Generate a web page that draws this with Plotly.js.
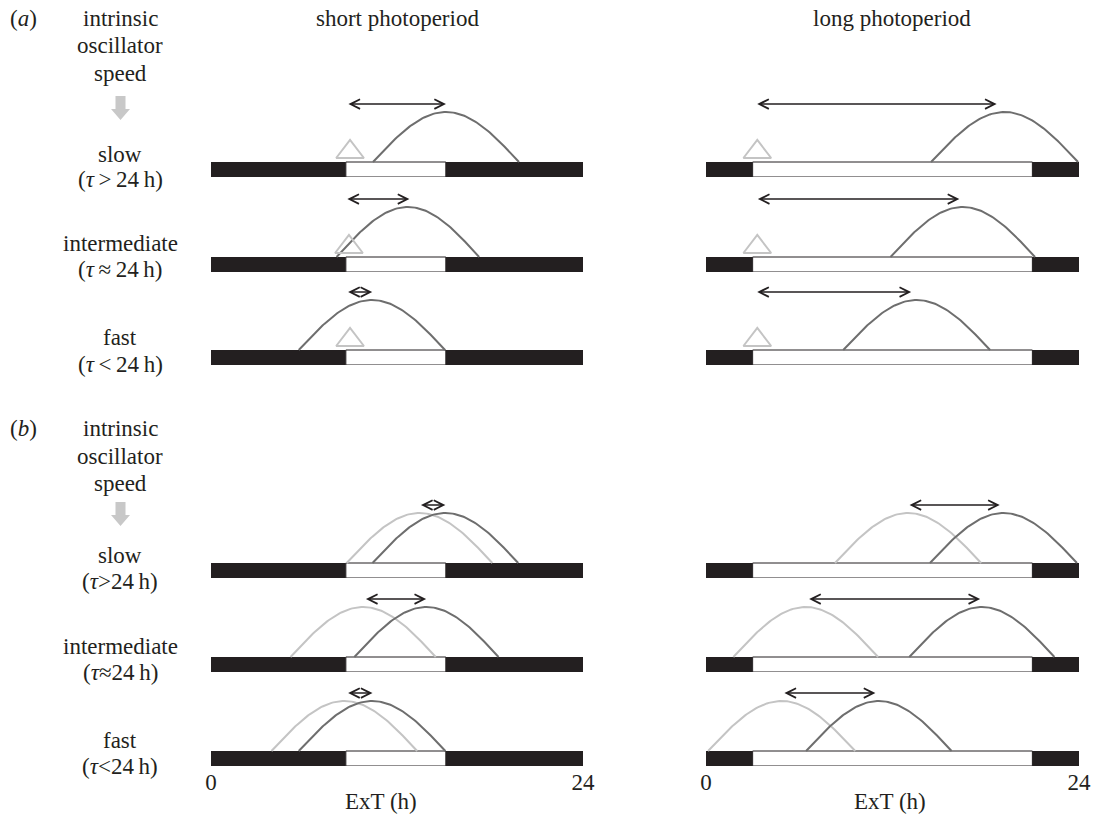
<!DOCTYPE html>
<html><head><meta charset="utf-8">
<script src="https://cdn.plot.ly/plotly-3.0.1.min.js"></script>
<style>html,body{margin:0;padding:0;background:#fff}</style>
</head><body><div id="chart" style="width:1094px;height:814px"></div>
<script>
// ---------------- data ----------------
const photoperiods = ['short photoperiod', 'long photoperiod'];
const lightOn  = [8.7, 3.0];     // h, light onset per photoperiod
const lightOff = [15.15, 21.0];  // h, light offset per photoperiod
const tickVals = [0, 24];
const tickLabels = ['0', '24'];
const axisTitle = 'ExT (h)';
const panelLabels = ['(<i>a</i>)', '(<i>b</i>)'];
const headerLines = ['intrinsic', 'oscillator', 'speed'];
const speedLabels = ['slow', 'intermediate', 'fast'];
const tauLabelsA = ['(<i>τ</i>\u2009&gt;\u200924\u2009h)', '(<i>τ</i>\u2009≈\u200924\u2009h)', '(<i>τ</i>\u2009&lt;\u200924\u2009h)'];
const tauLabelsB = ['(<i>τ</i>&gt;24\u2009h)', '(<i>τ</i>≈24\u2009h)', '(<i>τ</i>&lt;24\u2009h)'];

// panel (a): rows slow / intermediate / fast, columns short / long
const aCurveStart = [[10.45, 14.48], [8.1, 11.87], [5.66, 8.83]];
const aCurveEnd   = [[19.87, 23.94], [17.3, 21.17], [15.1, 18.28]];
const aArrowFrom  = [[8.77, 3.2], [8.7, 3.24], [8.75, 3.2]];
const aArrowTo    = [[15.16, 18.7], [12.8, 16.3], [10.4, 13.2]];
const aTriangle   = [[8.97, 3.3], [8.9, 3.3], [8.97, 3.3]];

// panel (b)
const bLightStart = [[8.75, 8.3], [5.13, 1.76], [3.9, 0.13]];
const bLightEnd   = [[18.15, 17.7], [14.5, 11.07], [13.3, 9.6]];
const bDarkStart  = [[10.42, 14.41], [9.25, 13.08], [5.66, 6.44]];
const bDarkEnd    = [[19.82, 23.87], [18.55, 22.42], [15.12, 15.8]];
const bArrowFrom  = [[13.45, 13.0], [9.9, 6.54], [8.75, 4.95]];
const bArrowTo    = [[15.12, 18.9], [13.88, 17.64], [10.42, 10.9]];

// ---------------- layout constants ----------------
const W = 1094, H = 814;
const FONT = 'Liberation Serif, "Times New Roman", serif';
const FS = 23;
const INK = '#231f20';
const DARK = '#6e6e6e';
const LIGHT = '#c4c4c4';
const rowTops = [162, 257, 350, 563, 657, 751];
const U = 50;
const colPx = [[211, 583], [706, 1079]];
const ARROW_Y = 1.16, BAR_H = 0.3, TRI_Y = 0.2;

const px = v => v / W, py = v => 1 - v / H;

function hump(s, e) {
  const pk = (s + e) / 2, hw = (e - s) / 2, xs = [], ys = [];
  for (let k = 0; k <= 80; k++) {
    const x = s + (e - s) * k / 80;
    xs.push(x); ys.push(Math.cos(Math.PI * (x - pk) / (2 * hw)));
  }
  return {xs, ys};
}

const traces = [];
const layout = {
  width: W, height: H, margin: {l: 0, r: 0, t: 0, b: 0},
  paper_bgcolor: 'white', plot_bgcolor: 'rgba(0,0,0,0)', showlegend: false,
  shapes: [], annotations: []
};

for (let r = 0; r < 6; r++) {
  const panel = r < 3 ? 0 : 1, row = r % 3;
  for (let c = 0; c < 2; c++) {
    const idx = r * 2 + c + 1, sfx = idx === 1 ? '' : String(idx);
    const xa = 'x' + sfx, ya = 'y' + sfx;
    const T = rowTops[r];
    layout['xaxis' + sfx] = {
      domain: [px(colPx[c][0]), px(colPx[c][1])], range: [0, 24],
      visible: r === 5, showgrid: false, zeroline: false, showline: false, ticks: '',
      tickvals: tickVals, ticktext: tickLabels,
      tickfont: {family: FONT, size: FS, color: INK},
      anchor: ya, fixedrange: true
    };
    layout['yaxis' + sfx] = {
      domain: [py(T + 0.3 * U), py(T - 1.4 * U)], range: [-0.3, 1.4],
      visible: false, anchor: xa, fixedrange: true
    };
    // light/dark bar
    const segs = [[0, lightOn[c], INK], [lightOn[c], lightOff[c], 'white'], [lightOff[c], 24, INK]];
    segs.forEach(sg => layout.shapes.push({
      type: 'rect', xref: xa, yref: ya, x0: sg[0], x1: sg[1], y0: -BAR_H, y1: 0,
      fillcolor: sg[2], line: {color: INK, width: sg[2] === 'white' ? 1 : 0}, layer: 'below'
    }));
    let from, to;
    if (panel === 0) {
      const h = hump(aCurveStart[row][c], aCurveEnd[row][c]);
      traces.push({x: h.xs, y: h.ys, xaxis: xa, yaxis: ya, mode: 'lines',
        line: {color: DARK, width: 2}, hoverinfo: 'skip'});
      traces.push({x: [aTriangle[row][c]], y: [TRI_Y], xaxis: xa, yaxis: ya, mode: 'markers',
        marker: {symbol: 'triangle-up-open', size: 24, color: LIGHT, line: {color: LIGHT, width: 2}},
        hoverinfo: 'skip'});
      from = aArrowFrom[row][c]; to = aArrowTo[row][c];
    } else {
      const hl = hump(bLightStart[row][c], bLightEnd[row][c]);
      const hd = hump(bDarkStart[row][c], bDarkEnd[row][c]);
      traces.push({x: hl.xs, y: hl.ys, xaxis: xa, yaxis: ya, mode: 'lines',
        line: {color: LIGHT, width: 2}, hoverinfo: 'skip'});
      traces.push({x: hd.xs, y: hd.ys, xaxis: xa, yaxis: ya, mode: 'lines',
        line: {color: DARK, width: 2}, hoverinfo: 'skip'});
      from = bArrowFrom[row][c]; to = bArrowTo[row][c];
    }
    layout.annotations.push({
      xref: xa, yref: ya, axref: xa, ayref: ya, x: to, y: ARROW_Y, ax: from, ay: ARROW_Y,
      text: '', showarrow: true, arrowhead: 5, startarrowhead: 5, arrowside: 'end+start',
      arrowsize: 1.25, startarrowsize: 1.25, arrowwidth: 1.5, arrowcolor: INK,
      standoff: 0, startstandoff: 0
    });
  }
}

// text labels
function txt(text, x, y, size) {
  layout.annotations.push({xref: 'paper', yref: 'paper', x: px(x), y: py(y), text: text,
    showarrow: false, xanchor: 'center', yanchor: 'middle',
    font: {family: FONT, size: size || FS, color: INK}});
}
txt(photoperiods[0], 397, 18);
txt(photoperiods[1], 892, 18);
txt(axisTitle, 381, 801);
txt(axisTitle, 890, 801);
const headerY = [[18, 46, 73], [429, 456, 483]];
const speedY = [[154, 243, 337], [555, 646, 740]];
const tauY = [[180, 269, 364], [581, 672, 766]];
const arrowTop = [96, 502];
for (let p = 0; p < 2; p++) {
  txt(panelLabels[p], 23, headerY[p][0]);
  headerLines.forEach((t, i) => txt(t, 120, headerY[p][i]));
  speedLabels.forEach((t, i) => txt(t, 120, speedY[p][i]));
  (p === 0 ? tauLabelsA : tauLabelsB).forEach((t, i) => txt(t, 120, tauY[p][i]));
  // grey down arrow
  const t0 = arrowTop[p], cx = 120.5;
  const pts = [[cx - 5, t0], [cx + 5, t0], [cx + 5, t0 + 13], [cx + 9.5, t0 + 13], [cx, t0 + 24],
               [cx - 9.5, t0 + 13], [cx - 5, t0 + 13]];
  layout.shapes.push({type: 'path', xref: 'paper', yref: 'paper',
    path: 'M' + pts.map(q => px(q[0]) + ',' + py(q[1])).join('L') + 'Z',
    fillcolor: '#c8c8c8', line: {width: 0}});
}

Plotly.newPlot('chart', traces, layout, {staticPlot: true, displayModeBar: false});
</script></body></html>
